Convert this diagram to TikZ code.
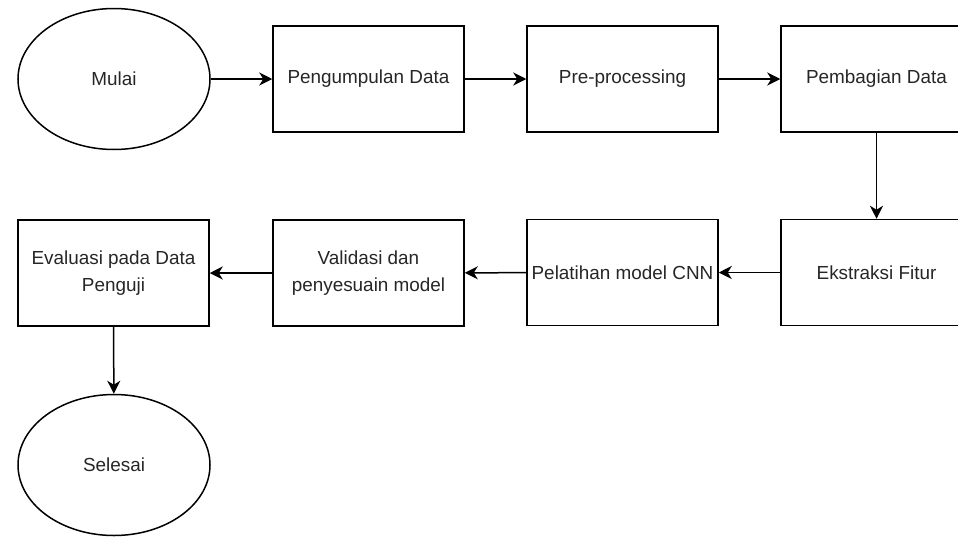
\documentclass[tikz,border=0pt]{standalone}
\usepackage{fontspec}
\setmainfont{Liberation Sans}
\usetikzlibrary{shapes.geometric,arrows.meta}

\begin{document}
\begin{tikzpicture}[x=1pt,y=1pt,
    terminal/.style={ellipse, draw, line width=1.5pt, inner sep=0pt,
      minimum width=192pt, minimum height=141pt},
    process/.style={rectangle, draw, line width=1.5pt, inner sep=0pt,
      minimum width=191pt, minimum height=106pt, align=center},
    flow/.style={line width=1.5pt, -{Stealth[length=13pt,width=13pt,inset=4pt]}},
    every node/.style={text=black!85, font=\fontsize{18.9}{27}\selectfont}]

      % Picture frame: the right column runs off the edge
      \clip (0,0) rectangle (958,-536);

      % Top row, left to right
      \node[terminal] (mulai) at (114,-79) {Mulai};
      \node[process] (kumpul) at (368.5,-79) {Pengumpulan Data};
      \node[process] (prepro) at (622.5,-79) {Pre-processing};
      \node[process] (bagi) at (876.5,-79) {Pembagian Data};

      % Bottom row, right to left
      \node[process] (fitur) at (876.5,-272.5) {Ekstraksi Fitur};
      \node[process] (latih) at (622.5,-272.5) {Pelatihan model CNN};
      \node[process] (valid) at (368.5,-273) {Validasi dan\\penyesuain model};
      \node[process] (eval) at (113.5,-273) {Evaluasi pada Data\\Penguji};

      % End
      \node[terminal] (selesai) at (114,-465) {Selesai};

      % Connectors
      \draw[flow] (mulai) -- (kumpul);
      \draw[flow] (kumpul) -- (prepro);
      \draw[flow] (prepro) -- (bagi);
      \draw[flow] (bagi) -- (fitur);
      \draw[flow] (fitur) -- (latih);
      \draw[flow] (latih) -- (valid);
      \draw[flow] (valid) -- (eval);
      \draw[flow] (eval) -- (selesai);
    \end{tikzpicture}
\end{document}
